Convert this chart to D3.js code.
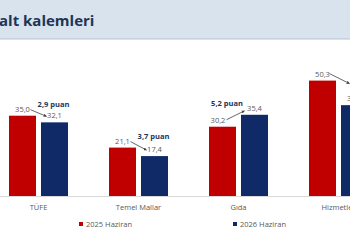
<!DOCTYPE html>
<html>
<head>
<meta charset="utf-8">
<script src="https://cdn.jsdelivr.net/npm/d3@7"></script>
<style>
  body { margin: 0; background: #fff; }
  svg { display: block; font-family: "Open Sans", sans-serif; }
</style>
</head>
<body>
<svg id="chart" width="350" height="250"></svg>
<script>
// data
var categories = ["TÜFE", "Temel Mallar", "Gıda", "Hizmetler"];
var series = ["2025 Haziran", "2026 Haziran"];
var v2025 = [35.0, 21.1, 30.2, 50.3];
var v2026 = [32.1, 17.4, 35.4, 39.6];
var changeLabels = ["2,9 puan", "3,7 puan", "5,2 puan", "10,7 puan"];

var svg = d3.select("#chart"),
    width = +svg.attr("width"),
    baseY = 196;

var colors = { "2025 Haziran": "#c00000", "2026 Haziran": "#0f2a66" };
var fmt = function(v) { return d3.format(".1f")(v).replace(".", ","); };

// header band
svg.append("rect").attr("x", 0).attr("y", 0).attr("width", width).attr("height", 39)
    .attr("fill", "#d8e3ee");
svg.append("line").attr("x1", 0).attr("x2", width).attr("y1", 39).attr("y2", 39)
    .attr("stroke", "#b7c3cf").attr("stroke-width", 1.2);
svg.append("text").attr("x", -1).attr("y", 26)
    .attr("fill", "#1c3557").attr("font-weight", "bold").attr("font-size", 15)
    .text("alt kalemleri");

var x0 = d3.scaleBand().domain(categories).range([-11.5, 388.5]);
var x1 = d3.scaleBand().domain(series).range([20.5, 79.5]).paddingInner(5 / 32);
var y = d3.scaleLinear().domain([0, 60]).range([baseY, 58.35]);

var rows = categories.map(function(c, i) {
  return { cat: c, vals: [{ s: series[0], v: v2025[i] }, { s: series[1], v: v2026[i] }], label: changeLabels[i] };
});

// baseline
svg.append("line").attr("x1", 0).attr("x2", width).attr("y1", baseY + 0.5).attr("y2", baseY + 0.5)
    .attr("stroke", "#d9d9d9").attr("stroke-width", 1);

var grp = svg.selectAll(".cat").data(rows).enter().append("g")
    .attr("class", "cat")
    .attr("transform", function(d) { return "translate(" + x0(d.cat) + ",0)"; });

grp.selectAll("rect").data(function(d) { return d.vals; }).enter().append("rect")
    .attr("x", function(d) { return x1(d.s); })
    .attr("y", function(d) { return y(d.v); })
    .attr("width", x1.bandwidth())
    .attr("height", function(d) { return baseY - y(d.v); })
    .attr("fill", function(d) { return colors[d.s]; });

grp.each(function(d) {
  var g = d3.select(this);
  var up = d.vals[1].v > d.vals[0].v;
  var xa = x1(series[0]) + x1.bandwidth() / 2,
      xb = x1(series[1]) + x1.bandwidth() / 2,
      ya = y(d.vals[0].v), yb = y(d.vals[1].v);

  // value labels
  g.selectAll(".val").data(d.vals).enter().append("text")
      .attr("class", "val")
      .attr("x", function(v, i) { return (i ? xb : xa) + (up && i === 0 ? -4.5 : 0); })
      .attr("y", function(v) { return y(v.v) - 4; })
      .attr("text-anchor", "middle")
      .attr("font-size", 7.5).attr("fill", "#595959")
      .text(function(v) { return fmt(v.v); });

  // arrow between the two values
  var ax1, ay1, ax2, ay2;
  if (d.cat === "Hizmetler") {
    ax1 = xa + 7; ay1 = ya - 7; ax2 = xa + 27; ay2 = ya + 3;
  } else if (up) {
    ax1 = xa + 4; ay1 = ya - 7; ax2 = xb - 10; ay2 = yb - 4;
  } else {
    ax1 = xa + 8; ay1 = ya - 6; ax2 = xb - 8; ay2 = yb - 6;
  }
  g.append("line")
      .attr("x1", ax1).attr("y1", ay1).attr("x2", ax2).attr("y2", ay2)
      .attr("stroke", "#404040").attr("stroke-width", 0.8)
      .attr("marker-end", "url(#arr)");

  var top = Math.min(ya, yb) - 6;
  var lx, ly, anchor = "middle";
  if (d.cat === "Hizmetler") { lx = xa + 27; ly = ya + 0.5; anchor = "start"; }
  else if (up) { lx = (xa + xb) / 2 - 11.5; ly = top - 3; }
  else { lx = (xa + xb) / 2 + 15; ly = top - 3; }
  g.append("text")
      .attr("x", lx).attr("y", ly)
      .attr("text-anchor", anchor)
      .attr("font-size", 7.5).attr("font-weight", "bold").attr("fill", "#1c3557")
      .text(d.label);
});

// category labels
grp.append("text")
    .attr("x", 50).attr("y", 210)
    .attr("text-anchor", "middle").attr("font-size", 7.5).attr("fill", "#595959")
    .text(function(d) { return d.cat; });

svg.append("defs").append("marker")
    .attr("id", "arr").attr("viewBox", "0 0 10 10").attr("refX", 9).attr("refY", 5)
    .attr("markerWidth", 4).attr("markerHeight", 4).attr("orient", "auto")
    .append("path").attr("d", "M0,0L10,5L0,10z").attr("fill", "#404040");

// legend
var legendX = [79, 233];
var legend = svg.selectAll(".legend").data(series).enter().append("g")
    .attr("class", "legend")
    .attr("transform", function(d, i) { return "translate(" + legendX[i] + ",222)"; });
legend.append("rect").attr("width", 4).attr("height", 4)
    .attr("fill", function(d) { return colors[d]; });
legend.append("text").attr("x", 7).attr("y", 4.5)
    .attr("font-size", 7.5).attr("fill", "#595959")
    .text(function(d) { return d; });
</script>
</body>
</html>
